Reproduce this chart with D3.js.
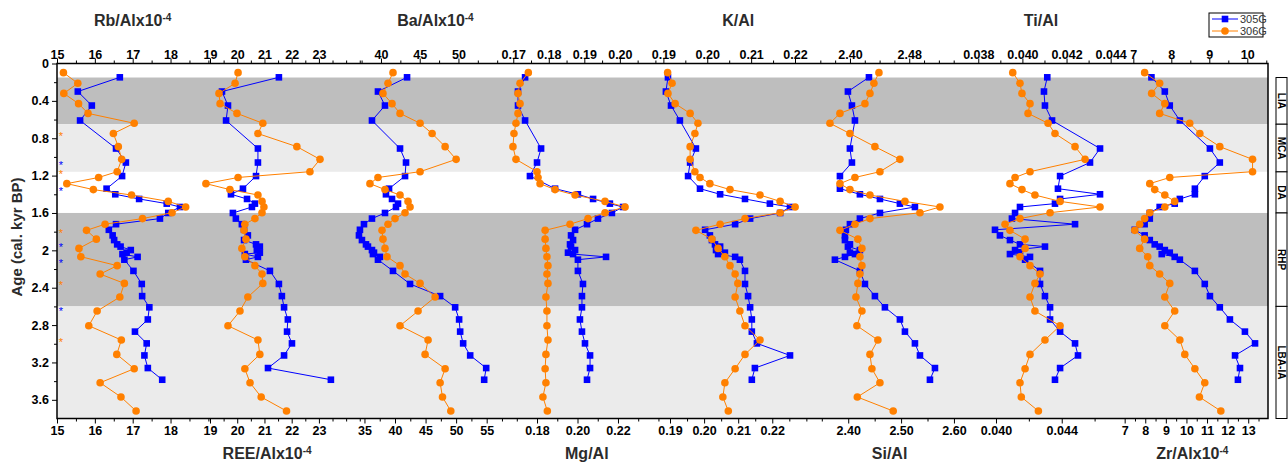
<!DOCTYPE html>
<html>
<head>
<meta charset="utf-8">
<script src="https://cdn.jsdelivr.net/npm/d3@7"></script>
<style>
body { margin: 0; background: #fff; }
svg text { font-family: "Liberation Sans", Arial, sans-serif; }
</style>
</head>
<body>
<div id="chart"></div>
<script>
// sample ages, cal. kyr BP
var age305 = [0.148, 0.30, 0.45, 0.61, 0.91, 1.06, 1.205, 1.34, 1.40, 1.45, 1.50, 1.536, 1.60, 1.66, 1.72, 1.78, 1.84, 1.89, 1.936, 1.96, 1.997, 2.025, 2.04, 2.07, 2.10, 2.22, 2.36, 2.49, 2.61, 2.74, 2.87, 2.996, 3.125, 3.26, 3.385];
var age306 = [0.098, 0.212, 0.32, 0.43, 0.534, 0.64, 0.75, 0.89, 1.026, 1.158, 1.22, 1.286, 1.35, 1.408, 1.476, 1.536, 1.597, 1.66, 1.72, 1.786, 1.88, 1.979, 2.068, 2.164, 2.254, 2.354, 2.50, 2.65, 2.807, 2.96, 3.114, 3.267, 3.417, 3.57, 3.72];

// dated levels (asterisks on the left edge)
var dated305 = [1.065, 1.34, 1.94, 2.115, 2.628];
var dated306 = [0.755, 1.16, 1.79, 2.35, 2.96];

var rb305 = [16.66, 15.55, 15.92, 15.61, 16.56, 16.82, 16.72, 16.31, 16.54, 17.17, 17.90, 18.25, 17.94, 17.72, 16.56, 16.37, 16.47, 16.51, 16.59, 16.68, 16.95, 16.84, 16.73, 17.13, 16.78, 17.02, 17.24, 17.25, 17.44, 17.40, 17.06, 17.37, 17.31, 17.40, 17.78];
var rb306 = [15.17, 15.55, 15.18, 15.57, 15.82, 17.04, 16.49, 16.62, 16.71, 16.59, 16.10, 15.26, 15.96, 16.97, 17.94, 18.40, 18.04, 17.26, 16.27, 15.78, 16.04, 15.58, 15.63, 16.59, 16.14, 16.78, 16.66, 16.06, 15.84, 16.70, 16.58, 17.04, 16.14, 16.69, 17.09];
var ree305 = [21.53, 19.44, 19.66, 19.59, 20.76, 20.76, 20.69, 20.21, 19.77, 20.36, 20.65, 20.54, 19.84, 19.95, 20.17, 20.25, 20.39, 20.25, 20.69, 20.83, 20.72, 20.83, 20.28, 20.76, 20.32, 21.20, 21.53, 21.64, 21.72, 21.86, 21.83, 22.01, 21.72, 21.13, 23.44];
var ree306 = [20.03, 19.92, 19.33, 19.37, 19.99, 20.94, 20.76, 22.19, 23.04, 22.67, 20.03, 18.85, 19.73, 20.76, 20.91, 20.98, 20.91, 20.65, 20.28, 20.25, 20.32, 20.17, 20.28, 20.65, 20.91, 20.94, 20.39, 20.10, 19.66, 20.76, 20.83, 20.28, 20.47, 20.88, 21.81];
var ba305 = [41.97, 37.21, 38.36, 36.23, 40.82, 41.80, 41.64, 39.02, 38.52, 39.51, 40.49, 40.16, 38.36, 36.23, 34.92, 34.26, 34.10, 34.59, 35.25, 35.57, 36.23, 36.56, 36.39, 37.54, 37.21, 39.67, 42.46, 47.38, 49.84, 50.49, 50.66, 51.15, 52.30, 54.92, 54.59];
var ba306 = [39.67, 38.85, 38.03, 39.51, 40.82, 44.10, 46.07, 48.20, 50.00, 44.10, 37.21, 35.90, 38.36, 40.82, 42.13, 42.46, 41.64, 40.00, 38.85, 37.87, 38.03, 38.36, 38.69, 40.82, 41.64, 44.10, 46.56, 43.77, 40.82, 45.41, 44.92, 48.20, 47.38, 47.77, 49.13];
var mg305 = [0.1741, 0.1706, 0.1706, 0.1741, 0.1820, 0.1800, 0.1765, 0.1889, 0.2002, 0.2077, 0.2160, 0.2225, 0.2170, 0.2101, 0.2047, 0.1988, 0.1968, 0.1978, 0.1963, 0.1968, 0.1988, 0.1953, 0.1978, 0.2141, 0.2002, 0.2002, 0.2027, 0.2022, 0.2022, 0.2012, 0.2022, 0.2037, 0.2062, 0.2062, 0.2047];
var mg306 = [0.1757, 0.1716, 0.1706, 0.1716, 0.1706, 0.1696, 0.1686, 0.1681, 0.1696, 0.1800, 0.1805, 0.1815, 0.1889, 0.1988, 0.2136, 0.2235, 0.2136, 0.2052, 0.1963, 0.1840, 0.1840, 0.1844, 0.1849, 0.1854, 0.1849, 0.1854, 0.1844, 0.1849, 0.1849, 0.1854, 0.1844, 0.1840, 0.1844, 0.1829, 0.1851];
var k305 = [0.1894, 0.1888, 0.1903, 0.1929, 0.1976, 0.1959, 0.1953, 0.1988, 0.2047, 0.2120, 0.2193, 0.2252, 0.2223, 0.2135, 0.2091, 0.2003, 0.2017, 0.2023, 0.2032, 0.2047, 0.2035, 0.2061, 0.2041, 0.2091, 0.2105, 0.2120, 0.2120, 0.2129, 0.2135, 0.2140, 0.2140, 0.2155, 0.2252, 0.2149, 0.2140];
var k306 = [0.1893, 0.1906, 0.1894, 0.1915, 0.1959, 0.1982, 0.1973, 0.1959, 0.1959, 0.1973, 0.1988, 0.2017, 0.2076, 0.2164, 0.2223, 0.2267, 0.2223, 0.2120, 0.2047, 0.1976, 0.2023, 0.2041, 0.2061, 0.2076, 0.2091, 0.2099, 0.2091, 0.2105, 0.2120, 0.2164, 0.2120, 0.2091, 0.2061, 0.2055, 0.2071];
var si305 = [2.4392, 2.3994, 2.4070, 2.4127, 2.4032, 2.4070, 2.3843, 2.3843, 2.4221, 2.4600, 2.4978, 2.5262, 2.4600, 2.4221, 2.4032, 2.3956, 2.3938, 2.3938, 2.4032, 2.3994, 2.4221, 2.4032, 2.4127, 2.3938, 2.3748, 2.4221, 2.4316, 2.4505, 2.4694, 2.4978, 2.5073, 2.5262, 2.5357, 2.5641, 2.5546];
var si306 = [2.4581, 2.4486, 2.4411, 2.4316, 2.3843, 2.3654, 2.4032, 2.4505, 2.4978, 2.4600, 2.4127, 2.3843, 2.4032, 2.4411, 2.5073, 2.5735, 2.5357, 2.4411, 2.4127, 2.3843, 2.4183, 2.4259, 2.4221, 2.4259, 2.4221, 2.4183, 2.4146, 2.4259, 2.4164, 2.4561, 2.4411, 2.4448, 2.4600, 2.4172, 2.4851];
var ti305 = [0.04312, 0.04292, 0.04298, 0.04341, 0.04633, 0.04572, 0.04390, 0.04377, 0.04633, 0.04390, 0.04359, 0.04146, 0.04116, 0.04097, 0.04481, 0.03994, 0.04024, 0.04085, 0.04146, 0.04298, 0.04116, 0.04146, 0.04085, 0.04207, 0.04177, 0.04268, 0.04268, 0.04298, 0.04329, 0.04329, 0.04390, 0.04481, 0.04499, 0.04390, 0.04359];
var ti306 = [0.04102, 0.04146, 0.04158, 0.04207, 0.04195, 0.04317, 0.04359, 0.04481, 0.04542, 0.04207, 0.04116, 0.04085, 0.04158, 0.04237, 0.04390, 0.04633, 0.04329, 0.04146, 0.04055, 0.04085, 0.04177, 0.04177, 0.04146, 0.04207, 0.04268, 0.04237, 0.04207, 0.04237, 0.04390, 0.04298, 0.04207, 0.04177, 0.04146, 0.04154, 0.04258];
var zr305 = [8.30, 8.95, 9.19, 9.68, 11.14, 11.62, 10.89, 10.41, 10.41, 9.68, 9.43, 8.70, 8.22, 8.22, 7.97, 7.49, 7.97, 8.22, 8.46, 8.70, 8.95, 9.19, 8.80, 9.43, 9.68, 10.41, 10.89, 11.14, 11.62, 12.11, 12.84, 13.33, 12.36, 12.60, 12.50];
var zr306 = [7.97, 8.70, 8.31, 8.95, 8.70, 10.16, 10.65, 11.62, 13.21, 13.21, 9.19, 8.22, 8.46, 8.95, 9.43, 8.95, 8.22, 7.97, 7.73, 7.49, 7.97, 7.73, 8.12, 8.22, 8.70, 9.19, 8.95, 9.43, 8.95, 9.68, 9.92, 10.41, 10.89, 10.63, 11.67];

// climate periods
var periods = [
  { name: "LIA", from: 0.15, to: 0.65, fill: "#bebebe" },
  { name: "MCA", from: 0.65, to: 1.16, fill: "#ebebeb" },
  { name: "DA", from: 1.16, to: 1.6, fill: "#ffffff" },
  { name: "RHP", from: 1.6, to: 2.6, fill: "#bebebe" },
  { name: "LBA-IA", from: 2.6, to: 3.8, fill: "#ebebeb" }
];

var ageTicks = [0, 0.4, 0.8, 1.2, 1.6, 2, 2.4, 2.8, 3.2, 3.6];

var panels = [
  { title: "Rb/Alx10", sup: "-4", side: "top", a: rb305, b: rb306,
    bot: { domain: [15, 19], ticks: [15, 16, 17, 18], minor: 0.5, fmt: "d" },
    top: { domain: [15, 19], ticks: [15, 16, 17, 18], minor: 0.5, fmt: "d" } },
  { title: "REE/Alx10", sup: "-4", side: "bottom", dx: -17, a: ree305, b: ree306,
    bot: { domain: [18.94, 24.5], ticks: [19, 20, 21, 22, 23], minor: 0.5, fmt: "d" },
    top: { domain: [18.94, 24.5], ticks: [19, 20, 21, 22, 23], minor: 0.5, fmt: "d" } },
  { title: "Ba/Alx10", sup: "-4", side: "top", a: ba305, b: ba306,
    bot: { domain: [34.23, 59.0], ticks: [35, 40, 45, 50, 55], minor: 2.5, fmt: "d" },
    top: { domain: [37.26, 56.8], ticks: [40, 45, 50], minor: 2.5, fmt: "d" } },
  { title: "Mg/Al", sup: "", side: "bottom", a: mg305, b: mg306,
    bot: { domain: [0.1672, 0.2420], ticks: [0.18, 0.20, 0.22], minor: 0.01, fmt: ".2f" },
    top: { domain: [0.1694, 0.2120], ticks: [0.17, 0.18, 0.19, 0.20], minor: 0.005, fmt: ".2f" } },
  { title: "K/Al", sup: "", side: "top", a: k305, b: k306,
    bot: { domain: [0.1878, 0.2322], ticks: [0.19, 0.20, 0.21, 0.22], minor: 0.005, fmt: ".2f" },
    top: { domain: [0.1898, 0.2243], ticks: [0.19, 0.20, 0.21, 0.22], minor: 0.005, fmt: ".2f" } },
  { title: "Si/Al", sup: "", side: "bottom", a: si305, b: si306,
    bot: { domain: [2.335, 2.6214], ticks: [2.40, 2.50, 2.60], minor: 0.05, fmt: ".2f" },
    top: { domain: [2.3513, 2.5556], ticks: [2.40, 2.48], minor: 0.02, fmt: ".2f" } },
  { title: "Ti/Al", sup: "", side: "top", a: ti305, b: ti306,
    bot: { domain: [0.03813, 0.04734], ticks: [0.040, 0.044], minor: 0.002, fmt: ".3f" },
    top: { domain: [0.03741, 0.04427], ticks: [0.038, 0.040, 0.042, 0.044], minor: 0.001, fmt: ".3f" } },
  { title: "Zr/Alx10", sup: "-4", side: "bottom", a: zr305, b: zr306,
    bot: { domain: [6.61, 13.96], ticks: [7, 8, 9, 10, 11, 12, 13], minor: 0.5, fmt: "d" },
    top: { domain: [6.56, 10.545], ticks: [7, 8, 9, 10], minor: 0.5, fmt: "d" } }
];

var W = 1288, H = 464;
var mLeft = 57, mRight = 1268, mTop = 63.5, mBottom = 418.5;
var pw = (mRight - mLeft) / panels.length;
var blue = "#0000ff", orange = "#ff8000";

var svg = d3.select("#chart").append("svg")
  .attr("width", W).attr("height", H);

var y = d3.scaleLinear().domain([0, 3.8]).range([mTop, mBottom]);

// background bands
svg.selectAll(".band")
  .data(periods)
  .enter().append("rect")
  .attr("class", "band")
  .attr("x", mLeft).attr("width", mRight - mLeft)
  .attr("y", function (d) { return y(d.from); })
  .attr("height", function (d) { return y(d.to) - y(d.from); })
  .attr("fill", function (d) { return d.fill; });

function minorValues(cfg) {
  var d = cfg.domain, m = cfg.minor, out = [];
  for (var k = Math.ceil(d[0] / m - 1e-6); k * m <= d[1] + 1e-9; k++) {
    var v = +(k * m).toFixed(6);
    if (!cfg.ticks.some(function (t) { return Math.abs(t - v) < m / 10; })) out.push(v);
  }
  return out;
}

function styleAxis(g) {
  g.select(".domain").remove();
  g.selectAll("line").attr("stroke", "#000").attr("stroke-width", 1);
  g.selectAll("text").attr("font-size", "12.5px").attr("font-weight", "bold").attr("fill", "#000");
}

panels.forEach(function (p, i) {
  var x0 = mLeft + i * pw, x1 = x0 + pw;
  var xb = d3.scaleLinear().domain(p.bot.domain).range([x0, x1]);
  var xt = d3.scaleLinear().domain(p.top.domain).range([x0, x1]);

  // top axis
  svg.append("g").attr("transform", "translate(0," + mTop + ")")
    .call(d3.axisTop(xt).tickValues(minorValues(p.top)).tickSize(3).tickFormat(""))
    .call(styleAxis);
  svg.append("g").attr("transform", "translate(0," + mTop + ")")
    .call(d3.axisTop(xt).tickValues(p.top.ticks).tickSize(5).tickPadding(0).tickFormat(d3.format(p.top.fmt)))
    .call(styleAxis);

  // bottom axis
  svg.append("g").attr("transform", "translate(0," + mBottom + ")")
    .call(d3.axisBottom(xb).tickValues(minorValues(p.bot)).tickSize(3).tickFormat(""))
    .call(styleAxis);
  svg.append("g").attr("transform", "translate(0," + mBottom + ")")
    .call(d3.axisBottom(xb).tickValues(p.bot.ticks).tickSize(5).tickPadding(3).tickFormat(d3.format(p.bot.fmt)))
    .call(styleAxis);

  // title
  var t = svg.append("text")
    .attr("x", (x0 + x1) / 2 + (p.dx || 0))
    .attr("y", p.side === "top" ? 26 : 459)
    .attr("text-anchor", "middle")
    .attr("font-size", "16px").attr("font-weight", "bold").attr("fill", "#2b2b2b")
    .text(p.title);
  if (p.sup) {
    t.append("tspan").attr("dy", "-0.55em").attr("font-size", "10px").text(p.sup);
  }

  var d305 = p.a.map(function (v, j) { return { v: v, age: age305[j] }; });
  var d306 = p.b.map(function (v, j) { return { v: v, age: age306[j] }; });
  var line = d3.line()
    .x(function (d) { return xb(d.v); })
    .y(function (d) { return y(d.age); });

  // series 305G
  svg.append("path").datum(d305)
    .attr("d", line).attr("fill", "none").attr("stroke", blue).attr("stroke-width", 1);
  svg.selectAll(".sq" + i).data(d305).enter().append("rect")
    .attr("class", "sq" + i)
    .attr("x", function (d) { return xb(d.v) - 3.3; })
    .attr("y", function (d) { return y(d.age) - 3.3; })
    .attr("width", 6.6).attr("height", 6.6)
    .attr("fill", blue);

  // series 306G
  svg.append("path").datum(d306)
    .attr("d", line).attr("fill", "none").attr("stroke", orange).attr("stroke-width", 1);
  svg.selectAll(".ci" + i).data(d306).enter().append("circle")
    .attr("class", "ci" + i)
    .attr("cx", function (d) { return xb(d.v); })
    .attr("cy", function (d) { return y(d.age); })
    .attr("r", 3.8)
    .attr("fill", orange);
});

// frame
svg.append("rect")
  .attr("x", mLeft).attr("y", mTop)
  .attr("width", mRight - mLeft).attr("height", mBottom - mTop)
  .attr("fill", "none").attr("stroke", "#000").attr("stroke-width", 1.5);

// age axis
svg.append("g").attr("transform", "translate(" + mLeft + ",0)")
  .call(d3.axisLeft(y).tickValues(d3.range(0.2, 3.8, 0.4)).tickSize(3).tickFormat(""))
  .call(styleAxis);
svg.append("g").attr("transform", "translate(" + mLeft + ",0)")
  .call(d3.axisLeft(y).tickValues(ageTicks).tickSize(5).tickPadding(3)
    .tickFormat(function (d) { return d === 0 || d === 2 ? String(d) : d3.format(".1f")(d); }))
  .call(styleAxis);

svg.append("text")
  .attr("transform", "translate(22," + ((mTop + mBottom) / 2 - 4) + ") rotate(-90)")
  .attr("text-anchor", "middle")
  .attr("font-size", "15px").attr("font-weight", "bold").attr("fill", "#2b2b2b")
  .text("Age (cal. kyr BP)");

// dated levels
svg.selectAll(".d305").data(dated305).enter().append("text")
  .attr("x", mLeft + 4).attr("y", function (d) { return y(d) + 6; })
  .attr("text-anchor", "middle").attr("font-size", "11px").attr("fill", blue)
  .text("*");
svg.selectAll(".d306").data(dated306).enter().append("text")
  .attr("x", mLeft + 4).attr("y", function (d) { return y(d) + 6; })
  .attr("text-anchor", "middle").attr("font-size", "11px").attr("fill", orange)
  .text("*");

// period strip on the right
var sx = 1276, sw = 11;
var strip = svg.append("g");
strip.selectAll("rect").data(periods).enter().append("rect")
  .attr("x", sx).attr("width", sw)
  .attr("y", function (d) { return y(d.from); })
  .attr("height", function (d) { return y(d.to) - y(d.from); })
  .attr("fill", "#fff").attr("stroke", "#000").attr("stroke-width", 1);
strip.selectAll("text").data(periods).enter().append("text")
  .attr("transform", function (d) {
    return "translate(" + (sx + sw / 2 - 3.6) + "," + y((d.from + d.to) / 2) + ") rotate(90)";
  })
  .attr("text-anchor", "middle")
  .attr("font-size", "10px").attr("font-weight", "bold").attr("fill", "#000")
  .text(function (d) { return d.name; });

// legend
var lg = svg.append("g");
lg.append("rect").attr("x", 1209).attr("y", 13).attr("width", 54).attr("height", 24)
  .attr("fill", "#fff").attr("stroke", "#000").attr("stroke-width", 1);
var leg = [{ name: "305G", c: blue, sq: true, y: 19 }, { name: "306G", c: orange, sq: false, y: 31 }];
leg.forEach(function (l) {
  lg.append("line").attr("x1", 1212).attr("x2", 1238).attr("y1", l.y).attr("y2", l.y)
    .attr("stroke", l.c).attr("stroke-width", 1);
  if (l.sq) {
    lg.append("rect").attr("x", 1225 - 3.3).attr("y", l.y - 3.3).attr("width", 6.6).attr("height", 6.6).attr("fill", l.c);
  } else {
    lg.append("circle").attr("cx", 1225).attr("cy", l.y).attr("r", 3.8).attr("fill", l.c);
  }
  lg.append("text").attr("x", 1240).attr("y", l.y + 4).attr("font-size", "11px").attr("fill", "#333").text(l.name);
});
</script>
</body>
</html>
